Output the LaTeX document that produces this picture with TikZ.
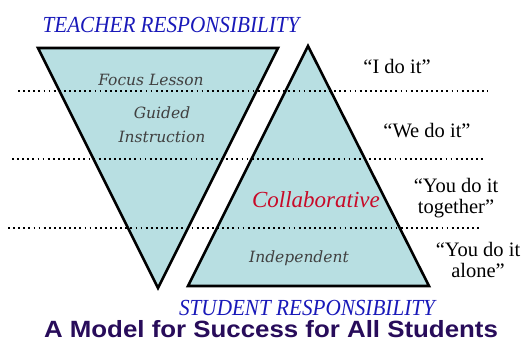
\documentclass[tikz,border=0pt]{standalone}
\usepackage{fontspec}
\setmainfont{Liberation Serif}
\newfontfamily\titlefont{Liberation Sans}
\newfontfamily\stagefont{DejaVu Serif}
\definecolor{tribg}{RGB}{184,223,226}
\definecolor{respblue}{RGB}{25,25,185}
\definecolor{collred}{RGB}{200,10,40}
\definecolor{titlepurple}{RGB}{40,12,90}
\tikzset{
  tri/.style={fill=tribg, draw=black, line width=2.6pt, line join=miter},
  stage/.style={font=\stagefont\itshape\fontsize{15.5}{24}\selectfont, text=black!75, align=center, anchor=base, inner sep=0pt},
  saying/.style={font=\fontsize{20.5}{21}\selectfont, align=center, anchor=base, inner sep=0pt},
  resp/.style={font=\itshape\fontsize{23}{24}\selectfont, text=respblue, anchor=base, inner sep=0pt},
  sep/.style={line width=1.8pt, dash pattern=on 1.8pt off 3.3pt}
}
\begin{document}
\begin{tikzpicture}[x=1pt,y=-1pt]
        \useasboundingbox (0,0) rectangle (524,341);
        % the two triangles
        \draw[tri] (38,48) -- (278,48) -- (158,288) -- cycle;
        \draw[tri] (308,46) -- (429,286) -- (188,286) -- cycle;
        % the dotted separators
        \coordinate (s1a) at (18,91);  \coordinate (s1b) at (488,91);
        \coordinate (s2a) at (12,159); \coordinate (s2b) at (485,159);
        \coordinate (s3a) at (8,228);  \coordinate (s3b) at (480,228);
        \foreach \i in {1,2,3}{
          \draw[sep] (s\i a) -- (s\i b);
        }
        % labels (multi-line ones sit on their last line)
        \node[resp] (teacher) at (171,32) {\scalebox{.92}[1]{TEACHER RESPONSIBILITY}};
        \node[resp] (student) at (307,315) {\scalebox{.92}[1]{STUDENT RESPONSIBILITY}};
        \node[stage] (focus) at (151,85) {Focus Lesson};
        \node[stage] (guided) at (162,142) {Guided\\Instruction};
        \node[stage, text=collred, font=\itshape\fontsize{23}{24}\selectfont] (collab) at (316,207) {Collaborative};
        \node[stage] (indep) at (299,262) {Independent};
        \node[saying] (ido) at (397,73) {“I do it”};
        \node[saying] (wedo) at (427,137) {“We do it”};
        \node[saying] (together) at (456,213) {“You do it\\together”};
        \node[saying] (alone) at (478,277) {“You do it\\alone”};
        \node[font=\titlefont\bfseries\fontsize{23.5}{24}\selectfont, text=titlepurple, anchor=base, inner sep=0pt] (title) at (271,337) {\scalebox{1.1}[1]{A Model for Success for All Students}};
      \end{tikzpicture}
\end{document}
